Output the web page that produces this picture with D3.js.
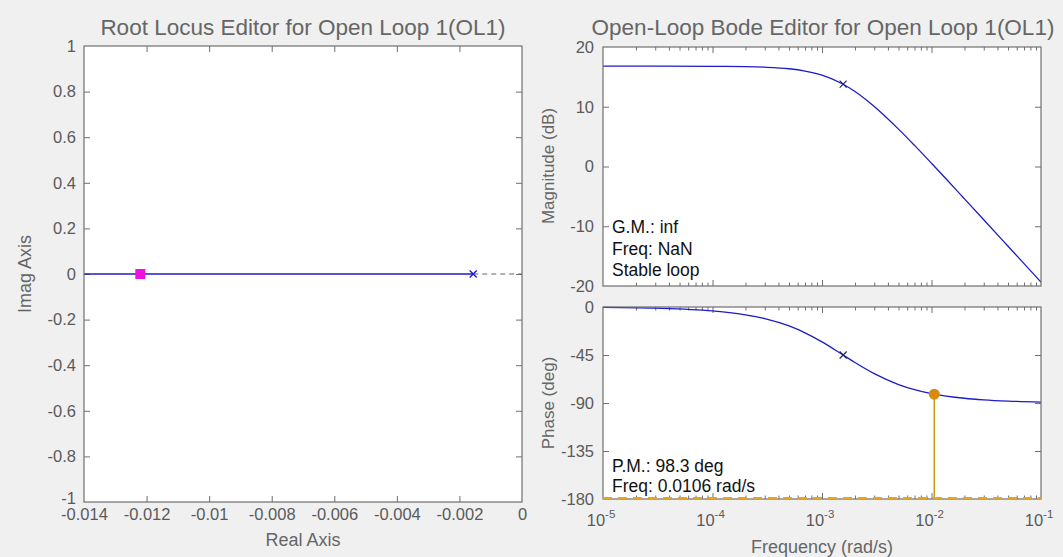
<!DOCTYPE html>
<html><head><meta charset="utf-8">
<script src="https://cdn.jsdelivr.net/npm/d3@7"></script>
<style>
html,body{margin:0;padding:0;background:#f0f0f0;}
svg{display:block;font-family:"Liberation Sans",Arial,sans-serif;}
</style></head><body>
<svg id="chart" width="1063" height="557"></svg>
<script>
// ---- Root locus ----
const realTicks = [-0.014, -0.012, -0.01, -0.008, -0.006, -0.004, -0.002, 0];
const imagTicks = [-1, -0.8, -0.6, -0.4, -0.2, 0, 0.2, 0.4, 0.6, 0.8, 1];
const locusBranch = [-0.014, -0.00156];   // real-axis branch up to the open-loop pole
const locusTail = [-0.00156, 0];          // dashed segment from the pole to the origin
const openLoopPoles = [-0.00156];
const closedLoopPoles = [-0.0122];

// ---- Open-loop Bode ----
const freqDecades = [1e-5, 1e-4, 1e-3, 1e-2, 1e-1];
const magTicks = [-20, -10, 0, 10, 20];
const phaseTicks = [-180, -135, -90, -45, 0];
const freq    = [1e-5, 3e-5, 1e-4, 2e-4, 3e-4, 5e-4, 7e-4, 1e-3, 1.5e-3, 2e-3, 3e-3, 5e-3, 7e-3, 1e-2, 2e-2, 3e-2, 5e-2, 1e-1];
const magDb   = [16.8, 16.8, 16.76, 16.71, 16.62, 16.36, 15.98, 15.29, 13.94, 12.56, 10.06, 6.26, 3.53, 0.54, -5.41, -8.91, -13.34, -19.36];
const phaseDeg= [-0.37, -1.1, -3.67, -7.3, -10.88, -17.77, -24.18, -32.66, -43.88, -52.04, -62.53, -72.67, -77.43, -81.13, -85.54, -87.02, -88.21, -89.11];
const poleFreq = [0.00156];
const poleMag = [13.8];
const polePhase = [-45];
const pmFreq = [0.0106];
const pmPhase = [-81.7];
const gmText = ["G.M.: inf", "Freq: NaN", "Stable loop"];
const pmText = ["P.M.: 98.3 deg", "Freq: 0.0106 rad/s"];

const svg = d3.select("#chart");
const TICK_FONT = 16.5, LABEL_FONT = 18, TITLE_FONT = 22.5, NOTE_FONT = 17.5;
const GREY_TEXT = "#5a5a5a", BORDER = "#6f6f6f", BLUE = "#1c1cc8";
const hyphen = d => String(+(+d).toFixed(4)).replace("\u2212", "-");

// scales
const xRe = d3.scaleLinear().domain([-0.014, 0]).range([84, 522]);
const yIm = d3.scaleLinear().domain([-1, 1]).range([502, 46]);
const xF = d3.scaleLog().domain([1e-5, 1e-1]).range([603, 1041]);
const yMag = d3.scaleLinear().domain([-20, 20]).range([286, 47]);
const yPh = d3.scaleLinear().domain([-180, 0]).range([499, 307]);

function panel(x0, x1, y0, y1) {
  svg.append("rect").attr("x", x0).attr("y", y0).attr("width", x1 - x0).attr("height", y1 - y0)
    .attr("fill", "#fff");
}
function frame(x0, x1, y0, y1) {
  svg.append("rect").attr("x", x0).attr("y", y0).attr("width", x1 - x0).attr("height", y1 - y0)
    .attr("fill", "none").attr("stroke", BORDER).attr("stroke-width", 1.2);
}
function styleAxis(g, withText) {
  g.select(".domain").remove();
  g.selectAll(".tick line").attr("stroke", BORDER).attr("stroke-width", 1);
  g.selectAll(".tick text").attr("fill", GREY_TEXT).attr("font-size", TICK_FONT)
    .attr("font-family", "Liberation Sans, Arial, sans-serif");
  if (!withText) g.selectAll(".tick text").remove();
}

// ================= Root locus panel =================
panel(84, 522, 46, 502);
{
  const gB = svg.append("g").attr("transform", "translate(0,502)")
    .call(d3.axisBottom(xRe).tickValues(realTicks).tickSize(-6).tickPadding(6).tickFormat(hyphen));
  styleAxis(gB, true);
  gB.selectAll(".tick").filter(d => d === -0.014 || d === 0).select("line").remove();
  const gT = svg.append("g").attr("transform", "translate(0,46)")
    .call(d3.axisTop(xRe).tickValues(realTicks.slice(1, -1)).tickSize(-6).tickFormat(""));
  styleAxis(gT, false);
  const gL = svg.append("g").attr("transform", "translate(84,0)")
    .call(d3.axisLeft(yIm).tickValues(imagTicks).tickSize(-6).tickPadding(8).tickFormat(hyphen));
  styleAxis(gL, true);
  gL.selectAll(".tick").filter(d => d === -1 || d === 1).select("line").remove();
  gL.selectAll(".tick").filter(d => d === -1).select("text").attr("dy", "0.1em");
  const gR = svg.append("g").attr("transform", "translate(522,0)")
    .call(d3.axisRight(yIm).tickValues(imagTicks.slice(1, -1)).tickSize(-6).tickFormat(""));
  styleAxis(gR, false);

  // locus branch
  svg.append("line").attr("x1", xRe(locusBranch[0])).attr("x2", xRe(locusBranch[1]))
    .attr("y1", yIm(0)).attr("y2", yIm(0)).attr("stroke", BLUE).attr("stroke-width", 1.5);
  svg.append("line").attr("x1", xRe(locusTail[0])).attr("x2", xRe(locusTail[1]))
    .attr("y1", yIm(0)).attr("y2", yIm(0)).attr("stroke", "#666").attr("stroke-width", 1.2)
    .attr("stroke-dasharray", "5,4");
  // open-loop pole
  openLoopPoles.forEach(p => {
    const cx = xRe(p), cy = yIm(0), s = 3.5;
    svg.append("path").attr("d", `M${cx - s},${cy - s}L${cx + s},${cy + s}M${cx - s},${cy + s}L${cx + s},${cy - s}`)
      .attr("stroke", BLUE).attr("stroke-width", 1.4);
  });
  // closed-loop pole
  closedLoopPoles.forEach(p => {
    svg.append("rect").attr("x", xRe(p) - 5).attr("y", yIm(0) - 5).attr("width", 10).attr("height", 10)
      .attr("fill", "#f010e0");
  });
  frame(84, 522, 46, 502);

  svg.append("text").attr("x", 303).attr("y", 35).attr("text-anchor", "middle")
    .attr("font-size", TITLE_FONT).attr("fill", "#666").text("Root Locus Editor for Open Loop 1(OL1)");
  svg.append("text").attr("x", 303).attr("y", 546).attr("text-anchor", "middle")
    .attr("font-size", LABEL_FONT).attr("fill", "#666").text("Real Axis");
  svg.append("text").attr("transform", "translate(31,274) rotate(-90)").attr("text-anchor", "middle")
    .attr("font-size", LABEL_FONT).attr("fill", "#666").text("Imag Axis");
}

// ================= Bode panels =================
const minorFreq = [];
freqDecades.slice(0, -1).forEach(d => { for (let k = 2; k <= 9; k++) minorFreq.push(d * k); });

function freqTicks(yPos, dir) {
  const axMaj = dir === "top" ? d3.axisTop(xF) : d3.axisBottom(xF);
  const axMin = dir === "top" ? d3.axisTop(xF) : d3.axisBottom(xF);
  const g1 = svg.append("g").attr("transform", `translate(0,${yPos})`)
    .call(axMaj.tickValues(freqDecades.slice(1, -1)).tickSize(-6).tickFormat(""));
  styleAxis(g1, false);
  const g2 = svg.append("g").attr("transform", `translate(0,${yPos})`)
    .call(axMin.tickValues(minorFreq).tickSize(-3.5).tickFormat(""));
  styleAxis(g2, false);
}
function valueTicks(scale, ticks, xLeft, xRight) {
  const gL = svg.append("g").attr("transform", `translate(${xLeft},0)`)
    .call(d3.axisLeft(scale).tickValues(ticks).tickSize(-6).tickPadding(9).tickFormat(hyphen));
  styleAxis(gL, true);
  const ends = d3.extent(ticks);
  gL.selectAll(".tick").filter(d => d === ends[0] || d === ends[1]).select("line").remove();
  const gR = svg.append("g").attr("transform", `translate(${xRight},0)`)
    .call(d3.axisRight(scale).tickValues(ticks.filter(t => t !== ends[0] && t !== ends[1])).tickSize(-6).tickFormat(""));
  styleAxis(gR, false);
}
const lineGen = (ys) => d3.line().x(d => xF(d[0])).y(d => ys(d[1])).curve(d3.curveMonotoneX);
function xMark(cx, cy) {
  const s = 3.5;
  svg.append("path").attr("d", `M${cx - s},${cy - s}L${cx + s},${cy + s}M${cx - s},${cy + s}L${cx + s},${cy - s}`)
    .attr("stroke", "#202070").attr("stroke-width", 1.1);
}

// Magnitude
panel(603, 1041, 47, 286);
freqTicks(47, "top");
freqTicks(286, "bottom");
valueTicks(yMag, magTicks, 603, 1041);
svg.append("path").datum(d3.zip(freq, magDb)).attr("d", lineGen(yMag))
  .attr("fill", "none").attr("stroke", BLUE).attr("stroke-width", 1.3);
poleFreq.forEach((f, i) => xMark(xF(f), yMag(poleMag[i])));
gmText.forEach((t, i) => svg.append("text").attr("x", 612).attr("y", 233 + i * 21.5)
  .attr("font-size", NOTE_FONT).attr("fill", "#111").text(t));
frame(603, 1041, 47, 286);

// Phase
panel(603, 1041, 307, 499);
freqTicks(307, "top");
freqTicks(499, "bottom");
valueTicks(yPh, phaseTicks, 603, 1041);
svg.append("path").datum(d3.zip(freq, phaseDeg)).attr("d", lineGen(yPh))
  .attr("fill", "none").attr("stroke", BLUE).attr("stroke-width", 1.3);
poleFreq.forEach((f, i) => xMark(xF(f), yPh(polePhase[i])));
pmFreq.forEach((f, i) => {
  svg.append("line").attr("x1", xF(f)).attr("x2", xF(f)).attr("y1", yPh(pmPhase[i])).attr("y2", yPh(-180))
    .attr("stroke", "#c89a10").attr("stroke-width", 1.5);
  svg.append("circle").attr("cx", xF(f)).attr("cy", yPh(pmPhase[i])).attr("r", 5.5).attr("fill", "#d88a10");
});
pmText.forEach((t, i) => svg.append("text").attr("x", 612).attr("y", 472 + i * 19.5)
  .attr("font-size", NOTE_FONT).attr("fill", "#111").text(t));
frame(603, 1041, 307, 499);
// -180 deg reference line, drawn over the frame edge
svg.append("line").attr("x1", xF(1e-5)).attr("x2", xF(1e-1)).attr("y1", yPh(-180) - 1).attr("y2", yPh(-180) - 1)
  .attr("stroke", "#e3a526").attr("stroke-width", 2.2).attr("stroke-dasharray", "9,6");

// Frequency decade labels
const decLabels = svg.append("g");
freqDecades.forEach(f => {
  const t = decLabels.append("text").attr("x", xF(f) - 2).attr("y", 526).attr("text-anchor", "middle")
    .attr("font-size", TICK_FONT).attr("fill", GREY_TEXT);
  t.append("tspan").text("10");
  t.append("tspan").attr("dy", -8).attr("font-size", 11.5).text(hyphen(Math.round(Math.log10(f))));
});

svg.append("text").attr("x", 823).attr("y", 35).attr("text-anchor", "middle")
  .attr("font-size", TITLE_FONT).attr("fill", "#666").text("Open-Loop Bode Editor for Open Loop 1(OL1)");
svg.append("text").attr("x", 822).attr("y", 553).attr("text-anchor", "middle")
  .attr("font-size", LABEL_FONT).attr("fill", "#666").text("Frequency (rad/s)");
svg.append("text").attr("transform", "translate(554,166) rotate(-90)").attr("text-anchor", "middle")
  .attr("font-size", LABEL_FONT - 1).attr("fill", "#666").text("Magnitude (dB)");
svg.append("text").attr("transform", "translate(554,403) rotate(-90)").attr("text-anchor", "middle")
  .attr("font-size", LABEL_FONT - 1).attr("fill", "#666").text("Phase (deg)");
</script>
</body></html>
